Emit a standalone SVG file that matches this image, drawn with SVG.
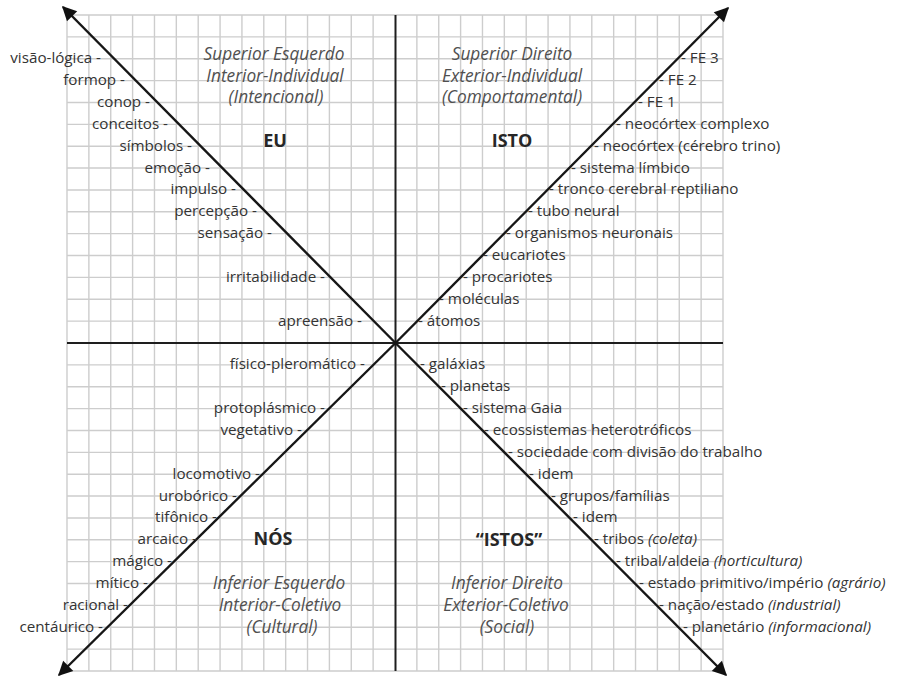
<svg xmlns="http://www.w3.org/2000/svg" width="898" height="676" viewBox="0 0 898 676">
<style>
.grid{stroke:#cdcdcd;stroke-width:1.4;fill:none}
.axis{stroke:#1e1e1e;stroke-width:2;fill:none}
.diag{stroke:#161616;stroke-width:2.4;fill:none}
.lbl{font-family:"Open Sans","Noto Sans",sans-serif;font-size:15.2px;fill:#333}
.l{text-anchor:end}
.t{font-family:"Open Sans","Noto Sans",sans-serif;font-size:17.3px;font-style:italic;fill:#505050;text-anchor:middle}
.b{font-family:"Open Sans","Noto Sans",sans-serif;font-size:18px;font-weight:bold;fill:#262626;text-anchor:middle}
.i{font-style:italic}
</style>
<defs>
<marker id="ah" viewBox="0 0 10 10" refX="9" refY="5" markerWidth="7" markerHeight="6" markerUnits="strokeWidth" orient="auto">
<path d="M0 0L10 5L0 10z" fill="#111"/>
</marker>
</defs>
<rect width="898" height="676" fill="#fff"/>
<g id="grid">
<path class="grid" d="M67 15V671M88.87 15V671M110.73 15V671M132.6 15V671M154.47 15V671M176.33 15V671M198.2 15V671M220.07 15V671M241.93 15V671M263.8 15V671M285.67 15V671M307.53 15V671M329.4 15V671M351.27 15V671M373.13 15V671M416.87 15V671M438.73 15V671M460.6 15V671M482.47 15V671M504.33 15V671M526.2 15V671M548.07 15V671M569.93 15V671M591.8 15V671M613.67 15V671M635.53 15V671M657.4 15V671M679.27 15V671M701.13 15V671M723 15V671"/>
<path class="grid" d="M67 15H723M67 36.87H723M67 58.73H723M67 80.6H723M67 102.47H723M67 124.33H723M67 146.2H723M67 168.07H723M67 189.93H723M67 211.8H723M67 233.67H723M67 255.53H723M67 277.4H723M67 299.27H723M67 321.13H723M67 364.87H723M67 386.73H723M67 408.6H723M67 430.47H723M67 452.33H723M67 474.2H723M67 496.07H723M67 517.93H723M67 539.8H723M67 561.67H723M67 583.53H723M67 605.4H723M67 627.27H723M67 649.13H723M67 671H723"/>
</g>
<g id="connectors">
<path class="axis" d="M395.5 15V671M67 343H723"/>
<path class="diag" d="M395.5 343L63 7" marker-end="url(#ah)"/>
<path class="diag" d="M395.5 343L728 8" marker-end="url(#ah)"/>
<path class="diag" d="M395.5 343L59 675" marker-end="url(#ah)"/>
<path class="diag" d="M395.5 343L726 675" marker-end="url(#ah)"/>
</g>
<g id="upper-left">
<text class="t" x="274" y="60">Superior Esquerdo</text>
<text class="t" x="275" y="82">Interior-Individual</text>
<text class="t" x="276" y="103">(Intencional)</text>
<text class="b" x="275" y="147">EU</text>
<g class="lbl l">
<text x="101" y="63">visão-lógica -</text>
<text x="125" y="85">formop -</text>
<text x="150" y="107">conop -</text>
<text x="168" y="129">conceitos -</text>
<text x="192" y="151">símbolos -</text>
<text x="210" y="173">emoção -</text>
<text x="236" y="194">impulso -</text>
<text x="257" y="216">percepção -</text>
<text x="272" y="238">sensação -</text>
<text x="325" y="282">irritabilidade -</text>
<text x="362" y="326">apreensão -</text>
</g>
</g>
<g id="upper-right">
<text class="t" x="512" y="60">Superior Direito</text>
<text class="t" x="512" y="82">Exterior-Individual</text>
<text class="t" x="512" y="103">(Comportamental)</text>
<text class="b" x="512" y="147">ISTO</text>
<g class="lbl">
<text x="681" y="63">- FE 3</text>
<text x="659" y="85">- FE 2</text>
<text x="638" y="107">- FE 1</text>
<text x="616" y="129">- neocórtex complexo</text>
<text x="594" y="151">- neocórtex (cérebro trino)</text>
<text x="571" y="173">- sistema límbico</text>
<text x="549" y="194">- tronco cerebral reptiliano</text>
<text x="528" y="216">- tubo neural</text>
<text x="506" y="238">- organismos neuronais</text>
<text x="483" y="260">- eucariotes</text>
<text x="463" y="282">- procariotes</text>
<text x="439" y="304">- moléculas</text>
<text x="418" y="326">- átomos</text>
</g>
</g>
<g id="lower-left">
<text class="b" x="273" y="545">NÓS</text>
<text class="t" x="279" y="589">Inferior Esquerdo</text>
<text class="t" x="280" y="611">Interior-Coletivo</text>
<text class="t" x="282" y="633">(Cultural)</text>
<g class="lbl l">
<text x="365" y="369">físico-pleromático -</text>
<text x="325" y="413">protoplásmico -</text>
<text x="302" y="435">vegetativo -</text>
<text x="260" y="479">locomotivo -</text>
<text x="237" y="501">urobórico -</text>
<text x="217" y="522">tifônico -</text>
<text x="197" y="544">arcaico -</text>
<text x="172" y="566">mágico -</text>
<text x="148" y="588">mítico -</text>
<text x="128" y="610">racional -</text>
<text x="103" y="632">centáurico -</text>
</g>
</g>
<g id="lower-right">
<text class="b" x="509" y="546">“ISTOS”</text>
<text class="t" x="507" y="589">Inferior Direito</text>
<text class="t" x="506" y="611">Exterior-Coletivo</text>
<text class="t" x="507" y="633">(Social)</text>
<g class="lbl">
<text x="420" y="369">- galáxias</text>
<text x="441" y="391">- planetas</text>
<text x="463" y="413">- sistema Gaia</text>
<text x="484" y="435">- ecossistemas heterotróficos</text>
<text x="508" y="457">- sociedade com divisão do trabalho</text>
<text x="529" y="479">- idem</text>
<text x="551" y="501">- grupos/famílias</text>
<text x="573" y="522">- idem</text>
<text x="594" y="544">- tribos <tspan class="i">(coleta)</tspan></text>
<text x="616" y="566">- tribal/aldeia <tspan class="i">(horticultura)</tspan></text>
<text x="639" y="588">- estado primitivo/império <tspan class="i">(agrário)</tspan></text>
<text x="659" y="610">- nação/estado <tspan class="i">(industrial)</tspan></text>
<text x="683" y="632">- planetário <tspan class="i">(informacional)</tspan></text>
</g>
</g>
</svg>
